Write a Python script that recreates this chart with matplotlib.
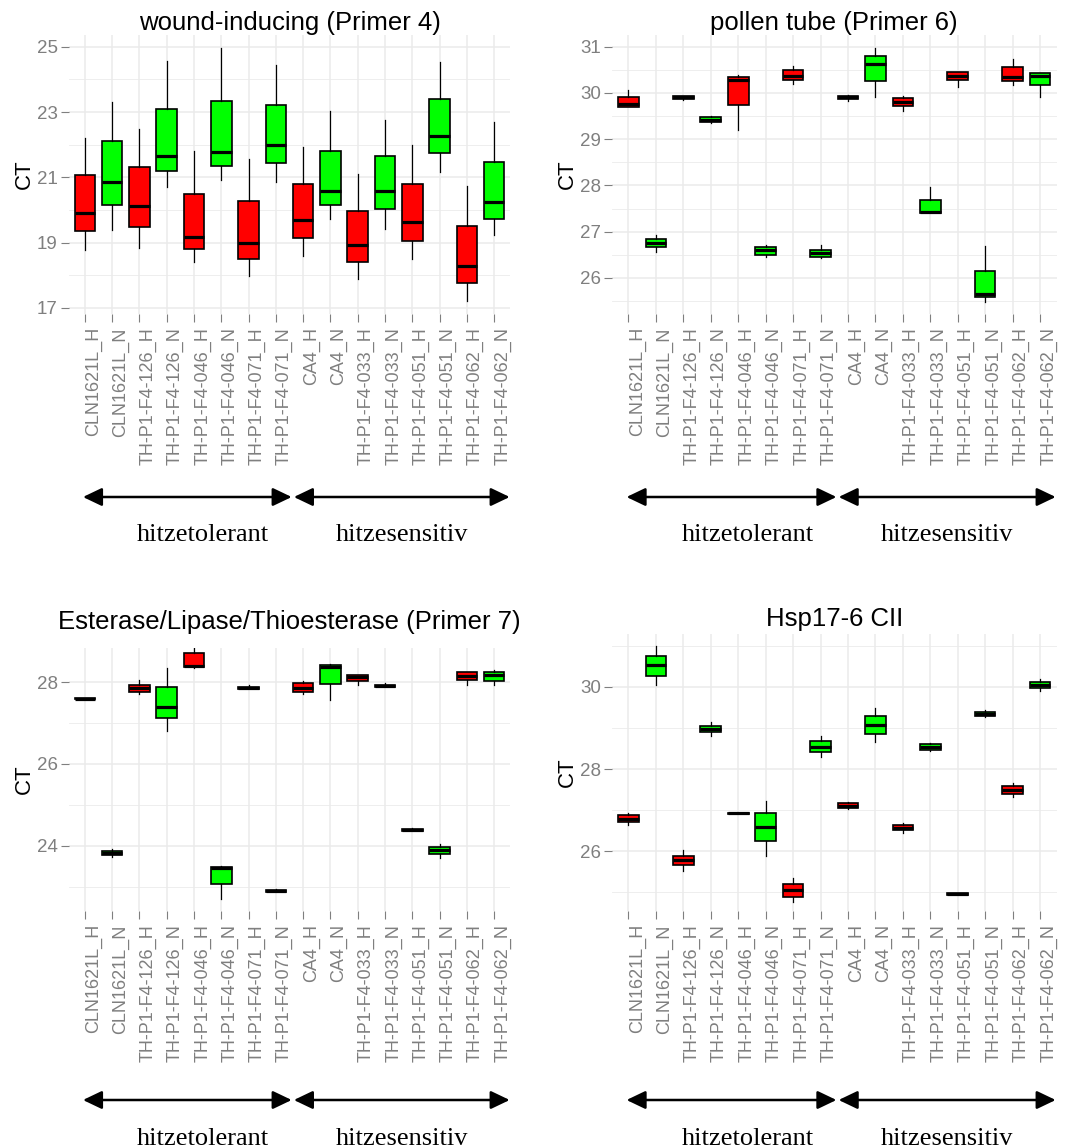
import matplotlib
matplotlib.use('Agg')
from matplotlib import pyplot as plt
from matplotlib.ticker import FixedLocator
from matplotlib.transforms import blended_transform_factory

plt.rcParams['font.family'] = ['Liberation Sans', 'DejaVu Sans']

categories = ['CLN1621L_H', 'CLN1621L_N', 'TH-P1-F4-126_H', 'TH-P1-F4-126_N',
              'TH-P1-F4-046_H', 'TH-P1-F4-046_N', 'TH-P1-F4-071_H', 'TH-P1-F4-071_N',
              'CA4_H', 'CA4_N', 'TH-P1-F4-033_H', 'TH-P1-F4-033_N',
              'TH-P1-F4-051_H', 'TH-P1-F4-051_N', 'TH-P1-F4-062_H', 'TH-P1-F4-062_N']
titles = ['wound-inducing (Primer 4)', 'pollen tube (Primer 6)',
          'Esterase/Lipase/Thioesterase (Primer 7)', 'Hsp17-6 CII']
groups = ['hitzetolerant', 'hitzesensitiv']

# wound-inducing (Primer 4)
p4_low = [18.78, 19.39, 18.83, 20.70, 18.39, 20.92, 17.97, 20.87, 18.58, 19.73, 17.89, 19.42, 18.50, 21.17, 17.20, 19.22]
p4_q1 = [19.34, 20.15, 19.47, 21.18, 18.79, 21.35, 18.50, 21.43, 19.13, 20.15, 18.39, 20.03, 19.05, 21.73, 17.76, 19.73]
p4_med = [19.89, 20.87, 20.11, 21.66, 19.17, 21.77, 18.99, 21.98, 19.68, 20.58, 18.91, 20.58, 19.64, 22.25, 18.27, 20.24]
p4_q3 = [21.06, 22.10, 21.30, 23.09, 20.49, 23.35, 20.28, 23.22, 20.79, 21.81, 19.97, 21.65, 20.79, 23.39, 19.51, 21.46]
p4_high = [22.20, 23.30, 22.48, 24.57, 21.81, 24.95, 21.55, 24.45, 21.94, 23.04, 21.09, 22.75, 21.98, 24.53, 20.74, 22.70]

# pollen tube (Primer 6)
p6_low = [29.69, 26.55, 29.85, 29.35, 29.20, 26.45, 30.20, 26.43, 29.82, 29.92, 29.60, 27.41, 30.13, 25.49, 30.16, 29.92]
p6_q1 = [29.70, 26.66, 29.86, 29.37, 29.73, 26.50, 30.28, 26.45, 29.86, 30.26, 29.72, 27.41, 30.28, 25.59, 30.26, 30.16]
p6_med = [29.75, 26.76, 29.90, 29.41, 30.28, 26.60, 30.37, 26.53, 29.90, 30.62, 29.80, 27.43, 30.37, 25.65, 30.35, 30.37]
p6_q3 = [29.90, 26.85, 29.94, 29.47, 30.34, 26.66, 30.49, 26.61, 29.94, 30.79, 29.89, 27.68, 30.44, 26.15, 30.55, 30.42]
p6_high = [30.06, 26.92, 29.94, 29.51, 30.39, 26.71, 30.58, 26.71, 29.95, 30.96, 29.93, 27.96, 30.45, 26.69, 30.73, 30.42]

# Esterase/Lipase/Thioesterase (Primer 7)
p7_low = [27.58, 23.74, 27.70, 26.81, 28.35, 22.71, 27.82, 22.87, 27.70, 27.56, 27.93, 27.87, 24.36, 23.71, 27.93, 27.93]
p7_q1 = [27.58, 23.77, 27.76, 27.12, 28.37, 23.08, 27.84, 22.88, 27.76, 27.96, 28.03, 27.89, 24.37, 23.80, 28.06, 28.03]
p7_med = [27.59, 23.82, 27.85, 27.39, 28.39, 23.46, 27.86, 22.91, 27.86, 28.37, 28.11, 27.91, 24.39, 23.90, 28.15, 28.16]
p7_q3 = [27.60, 23.87, 27.93, 27.87, 28.70, 23.49, 27.89, 22.93, 27.97, 28.41, 28.17, 27.93, 24.42, 23.97, 28.25, 28.25]
p7_high = [27.61, 23.92, 28.06, 28.34, 28.82, 23.51, 27.92, 22.94, 28.02, 28.43, 28.18, 27.98, 24.44, 24.05, 28.25, 28.30]

# Hsp17-6 CII
hsp_low = [26.63, 30.03, 25.53, 28.81, 26.91, 25.89, 24.77, 28.29, 27.04, 28.66, 26.45, 28.43, 24.95, 29.26, 27.31, 29.90]
hsp_q1 = [26.72, 30.27, 25.66, 28.90, 26.91, 26.24, 24.90, 28.41, 27.06, 28.86, 26.51, 28.46, 24.95, 29.28, 27.40, 29.96]
hsp_med = [26.79, 30.52, 25.78, 28.98, 26.92, 26.58, 25.06, 28.54, 27.10, 29.08, 26.57, 28.54, 24.97, 29.33, 27.49, 30.03]
hsp_q3 = [26.89, 30.75, 25.89, 29.04, 26.93, 26.92, 25.21, 28.67, 27.17, 29.29, 26.63, 28.60, 24.98, 29.39, 27.59, 30.11]
hsp_high = [26.94, 30.99, 26.02, 29.13, 26.94, 27.23, 25.35, 28.80, 27.21, 29.48, 26.68, 28.62, 24.99, 29.43, 27.67, 30.19]

panel_data = [(p4_low, p4_q1, p4_med, p4_q3, p4_high),
              (p6_low, p6_q1, p6_med, p6_q3, p6_high),
              (p7_low, p7_q1, p7_med, p7_q3, p7_high),
              (hsp_low, hsp_q1, hsp_med, hsp_q3, hsp_high)]
major_ticks = [[17, 19, 21, 23, 25], [26, 27, 28, 29, 30, 31], [24, 26, 28], [26, 28, 30]]
minor_ticks = [[18, 20, 22, 24], [25.5, 26.5, 27.5, 28.5, 29.5, 30.5], [23, 25, 27], [25, 27, 29, 31]]
ylims = [(16.81, 25.36), (25.22, 31.25), (22.41, 28.83), (24.55, 31.28)]

W, H = 1066, 1148
# panel boxes in pixels: left, right, top, bottom
boxes = [(68.5, 510.5, 35, 314), (612, 1056.5, 35, 314),
         (68.5, 510.5, 648, 911), (612, 1056.5, 634, 911)]
title_base = [30, 30, 629, 626]
arrow_y = [497, 497, 1100, 1100]
group_base = [541, 541, 1145, 1145]

fig = plt.figure(figsize=(W / 100, H / 100), dpi=100)
positions = list(range(1, len(categories) + 1))
grey = '#7f7f7f'

for i in range(4):
    l, r, t, b = boxes[i]
    ax = fig.add_axes([l / W, 1 - b / H, (r - l) / W, (b - t) / H])
    low, q1, med, q3, high = panel_data[i]
    stats = [dict(whislo=low[k], q1=q1[k], med=med[k], q3=q3[k], whishi=high[k])
             for k in range(len(categories))]
    bp = ax.bxp(stats, positions=positions, widths=0.75, showfliers=False,
                showcaps=False, patch_artist=True,
                boxprops=dict(edgecolor='black', linewidth=1.2),
                medianprops=dict(color='black', linewidth=2.3),
                whiskerprops=dict(color='black', linewidth=0.9))
    for patch, cat in zip(bp['boxes'], categories):
        patch.set_facecolor('#ff0000' if cat.endswith('_H') else '#00ff00')

    ax.set_xlim(0.4, 16.6)
    ax.set_ylim(*ylims[i])
    ax.set_xticks(positions)
    ax.set_xticklabels(categories, rotation=90, ha='left', va='top',
                       fontsize=13, color=grey)
    ax.set_yticks(major_ticks[i])
    ax.set_yticklabels([str(v) for v in major_ticks[i]], fontsize=13.5, color=grey)
    ax.yaxis.set_minor_locator(FixedLocator(minor_ticks[i]))
    ax.tick_params(axis='x', length=5.5, width=0.8, color=grey, pad=4)
    ax.tick_params(axis='y', length=5.8, width=0.8, color=grey, pad=2)
    ax.tick_params(which='minor', length=0)
    ax.set_axisbelow(True)
    ax.grid(which='major', color='#ebebeb', linewidth=1.1)
    ax.grid(which='minor', axis='y', color='#ebebeb', linewidth=0.6)
    for s in ax.spines.values():
        s.set_visible(False)

    ax.set_ylabel('CT', fontsize=16)
    ax.yaxis.set_label_coords(-34 / (r - l), 0.5)

    fig.text((l + r) / 2 / W, 1 - title_base[i] / H, titles[i], fontsize=18.5,
             ha='center', va='baseline')

    # Gruppenpfeile unter den Achsen
    trans = blended_transform_factory(ax.transData, fig.transFigure)
    ya = 1 - arrow_y[i] / H
    arrow = dict(arrowstyle='<|-|>,head_length=1.15,head_width=0.55',
                 mutation_scale=10, color='black', lw=1.8, shrinkA=0, shrinkB=0)
    ax.annotate('', xy=(8.58, ya), xytext=(0.93, ya), xycoords=trans,
                textcoords=trans, arrowprops=arrow, annotation_clip=False)
    ax.annotate('', xy=(16.57, ya), xytext=(8.66, ya), xycoords=trans,
                textcoords=trans, arrowprops=arrow, annotation_clip=False)
    yt = 1 - group_base[i] / H
    ax.text(5.34, yt, groups[0], transform=trans, ha='center', va='baseline',
            fontsize=19, family='Liberation Serif')
    ax.text(12.61, yt, groups[1], transform=trans, ha='center', va='baseline',
            fontsize=19, family='Liberation Serif')

fig.savefig('out.png', dpi=100)
